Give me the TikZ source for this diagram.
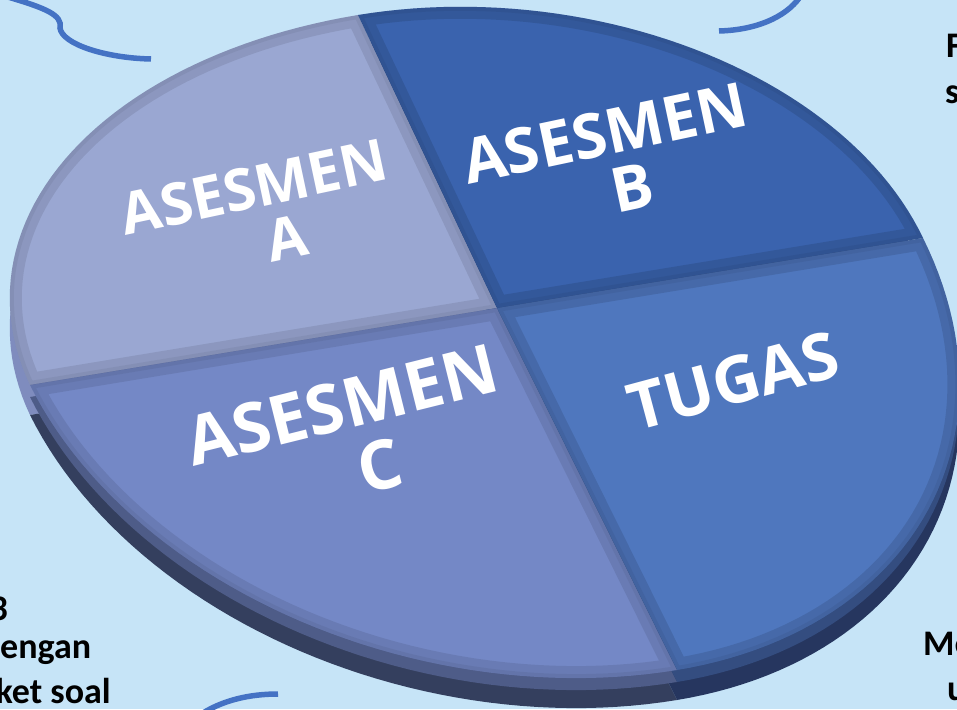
\documentclass[tikz,border=0pt]{standalone}
\usepackage{fontspec}
\setmainfont{Carlito}
\newfontfamily\lblfont{Open Sans}
\definecolor{bgblue}{HTML}{C6E4F7}
\definecolor{swoosh}{HTML}{4472C4}
\definecolor{colA}{HTML}{9AA7D2}
\definecolor{colB}{HTML}{3A63AE}
\definecolor{colT}{HTML}{4F77BE}
\definecolor{colC}{HTML}{7488C6}
\definecolor{sideA}{HTML}{7F8CBE}
\definecolor{sideB}{HTML}{2E4C8C}
\definecolor{sideC}{HTML}{343F5E}
\definecolor{sideT}{HTML}{26365F}
\tikzset{
  swooshline/.style={draw=swoosh, line width=5.5pt},
  lbl/.style={font=\lblfont\bfseries, text=white, inner sep=0pt},
  sidetext/.style={font=\bfseries\fontsize{36}{43}\selectfont, text=black, inner sep=0pt}
}
\begin{document}
\begin{tikzpicture}[x=1pt,y=-1pt]
\useasboundingbox (0,0) rectangle (957,709);
\clip (0,0) rectangle (957,709);
\fill[bgblue] (0,0) rectangle (957,709);

% sector paths (centre 497,308)
\def\pieB{(497,308) -- plot[domain=0:90,samples=50,variable=\t] ({497+426*cos(\t)-139*sin(\t)},{308-70*cos(\t)-293*sin(\t)}) -- cycle}
\def\pieA{(497,308) -- plot[domain=90:180,samples=50,variable=\t] ({497+467*cos(\t)-139*sin(\t)},{308-77*cos(\t)-293*sin(\t)}) -- cycle}
\def\pieC{(497,308) -- plot[domain=180:270,samples=50,variable=\t] ({497+467*cos(\t)-180*sin(\t)},{308-77*cos(\t)-362*sin(\t)}) -- cycle}
\def\pieT{(497,308) -- plot[domain=270:360,samples=50,variable=\t] ({497+426*cos(\t)-180*sin(\t)},{308-70*cos(\t)-362*sin(\t)}) -- cycle}

% side of the disc
\fill[sideA, yshift=-30pt] \pieA;
\fill[sideB, yshift=-30pt] \pieB;
\fill[sideC, yshift=-30pt] \pieC;
\fill[sideT, yshift=-30pt] \pieT;
\fill[sideC!60!colC, yshift=-12pt] \pieC;
\fill[sideT!65!colT, yshift=-12pt] \pieT;

% top faces
\fill[colA] \pieA;
\fill[colB] \pieB;
\fill[colC] \pieC;
\fill[colT] \pieT;

% bevels
\begin{scope}\clip \pieA;
  \draw[line width=24pt, black, opacity=0.09] \pieA;
  \draw[line width=8pt, black, opacity=0.05] \pieA;
\end{scope}
\begin{scope}\clip \pieB;
  \draw[line width=24pt, black, opacity=0.11] \pieB;
  \draw[line width=8pt, black, opacity=0.05] \pieB;
\end{scope}
\begin{scope}\clip \pieC;
  \draw[line width=24pt, black, opacity=0.09] \pieC;
  \draw[line width=8pt, black, opacity=0.05] \pieC;
\end{scope}
\begin{scope}\clip \pieT;
  \draw[line width=24pt, black, opacity=0.11] \pieT;
  \draw[line width=8pt, black, opacity=0.05] \pieT;
\end{scope}

% labels
\node[lbl, rotate=12, font=\lblfont\bfseries\fontsize{58}{62}\selectfont] (A1) at (254,187) {ASESMEN};
\node[lbl, rotate=12, font=\lblfont\bfseries\fontsize{58}{62}\selectfont] (A2) at (287,238) {A};

\node[lbl, rotate=12, font=\lblfont\bfseries\fontsize{62}{66}\selectfont] (B1) at (605,133) {ASESMEN};
\node[lbl, rotate=12, font=\lblfont\bfseries\fontsize{62}{66}\selectfont] (B2) at (632,188) {B};

\node[lbl, rotate=15, font=\lblfont\bfseries\fontsize{65}{69}\selectfont] (T1) at (733,381) {TUGAS};

\node[lbl, rotate=14, font=\lblfont\bfseries\fontsize{68}{72}\selectfont] (C1) at (342,405) {ASESMEN};
\node[lbl, rotate=14, font=\lblfont\bfseries\fontsize{68}{72}\selectfont] (C2) at (380,466) {C};

% swooshes
\draw[swooshline] (8,-3) .. controls (45,8) and (63,15) .. (60,28) .. controls (62,44) and (105,58) .. (151,59);
\draw[swooshline] (800,-3) .. controls (785,18) and (755,30) .. (719,31);
\draw[swooshline] (278,694) .. controls (250,694) and (224,700) .. (203,713);

% cut-off side texts
\node[sidetext, anchor=base west] (tF) at (946,57) {F};
\node[sidetext, anchor=base west] (ts) at (945,103) {s};
\node[sidetext, anchor=base east] (t3) at (8,620) {3};
\node[sidetext, anchor=base west] (teng) at (0,658) {engan};
\node[sidetext, anchor=base east] (tket) at (111,703) {ket soal};
\node[sidetext, anchor=base west] (tMe) at (923,655) {Me};
\node[sidetext, anchor=base west] (tu) at (947,700) {u};
\end{tikzpicture}
\end{document}
